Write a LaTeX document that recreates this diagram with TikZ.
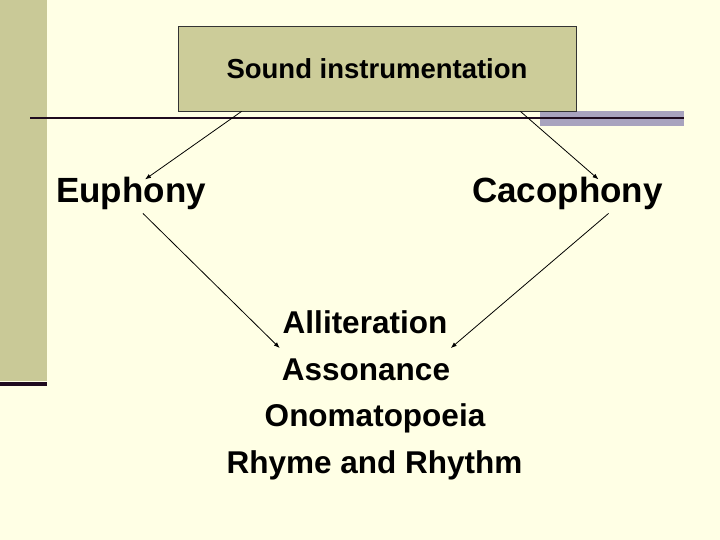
\documentclass[tikz,border=0pt]{standalone}
\usepackage{fontspec}
\setmainfont{Liberation Sans}
\usetikzlibrary{arrows.meta}
\definecolor{bgc}{HTML}{FFFFE5}
\definecolor{barc}{HTML}{C9C997}
\definecolor{boxc}{HTML}{CCCC99}
\definecolor{grayc}{HTML}{A8A3BE}
\definecolor{darkc}{HTML}{1F0B1F}
\tikzset{
  titlebox/.style={draw=black!80, line width=0.8pt, fill=boxc, minimum width=398pt, minimum height=85pt, inner sep=0pt,
    font=\fontsize{27.5pt}{33pt}\selectfont\bfseries},
  bigword/.style={anchor=base, inner sep=0pt, font=\fontsize{35pt}{42pt}\selectfont\bfseries},
  listword/.style={anchor=base, inner sep=0pt, font=\fontsize{31.5pt}{37pt}\selectfont\bfseries},
  conn/.style={line width=0.8pt, black, -{Latex[length=6pt,width=4.5pt]}}
}
\begin{document}
\begin{tikzpicture}[x=1pt,y=-1pt]
\fill[bgc] (0,0) rectangle (720,540);
\useasboundingbox (0,0) rectangle (720,540);
\fill[barc] (0,0) rectangle (47,381);
\draw[darkc, line width=3.5pt] (0,384) -- (47,384);
\fill[grayc] (540,111) rectangle (684,126);
\node[titlebox] (title) at (377,68.5) {Sound instrumentation};
\draw[darkc, line width=2pt] (30,118) -- (684,118);
\node[bigword] (eu) at (131,203) {Euphony};
\node[bigword] (ca) at (567.5,203) {Cacophony};
\node[listword] (l1) at (365,333) {Alliteration};
\node[listword] (l2) at (366,380) {Assonance};
\node[listword] (l3) at (375,426.5) {Onomatopoeia};
\node[listword] (l4) at (374.5,473) {Rhyme and Rhythm};
% connector end points
\coordinate (t1) at ([xshift=64pt]title.south west);
\coordinate (t2) at ([xshift=-56pt]title.south east);
\coordinate (e1) at ([xshift=14pt,yshift=-2pt]eu.north);
\coordinate (e2) at ([xshift=12pt,yshift=-3pt]eu.south);
\coordinate (c1) at ([xshift=31pt,yshift=-2pt]ca.north);
\coordinate (c2) at ([xshift=41pt,yshift=-3pt]ca.south);
\coordinate (a1) at ([xshift=-2pt,yshift=10pt]l2.north west);
\coordinate (a2) at ([xshift=0.5pt,yshift=10pt]l2.north east);
\draw[conn] (t1) -- (e1);
\draw[conn] (t2) -- (c1);
\draw[conn] (e2) -- (a1);
\draw[conn] (c2) -- (a2);
\end{tikzpicture}
\end{document}
